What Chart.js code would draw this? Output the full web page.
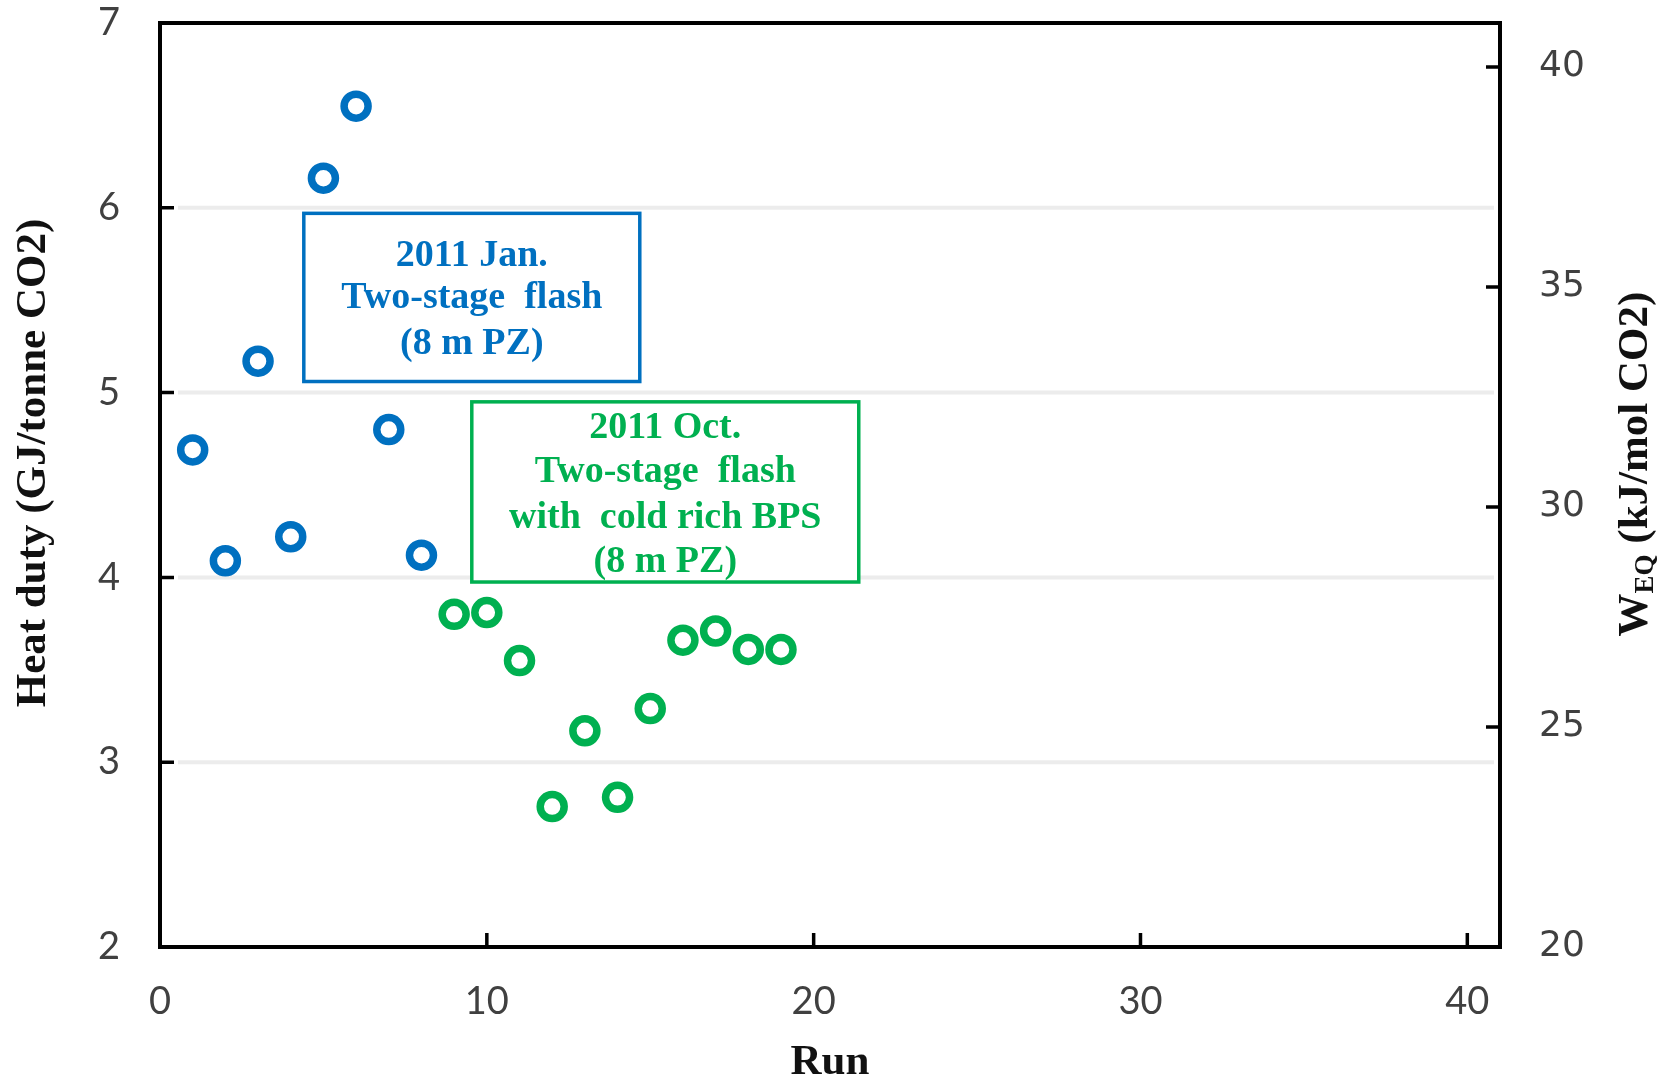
<!DOCTYPE html>
<html>
<head>
<meta charset="utf-8">
<script src="https://cdn.jsdelivr.net/npm/chart.js@4/dist/chart.umd.min.js"></script>
<style>
  html, body { margin: 0; padding: 0; background: #fff; }
  canvas { display: block; }
</style>
</head>
<body>
<canvas id="chart" width="1672" height="1081"></canvas>
<script>
// === Data ===
const runsJan = [1, 2, 3, 4, 5, 6, 7, 8];
const dutyJan = [4.69, 4.09, 5.17, 4.22, 6.16, 6.55, 4.80, 4.12];

const runsOct = [9, 10, 11, 12, 13, 14, 15, 16, 17, 18, 19];
const dutyOct = [3.80, 3.81, 3.55, 2.76, 3.17, 2.81, 3.29, 3.66, 3.71, 3.61, 3.61];

const runTicks = [0, 10, 20, 30, 40];
const dutyTicks = [2, 3, 4, 5, 6, 7];
const weqTicks = [20, 25, 30, 35, 40];
const dutyGrid = [3, 4, 5, 6];

const labelJan = ['2011 Jan.', 'Two-stage  flash', '(8 m PZ)'];
const labelOct = ['2011 Oct.', 'Two-stage  flash', 'with  cold rich BPS', '(8 m PZ)'];

// === Styling ===
const BLUE = '#0070c0';
const GREEN = '#00b050';
const TICK_FONT = 'Lato';
const SERIF = '"Liberation Serif", "Times New Roman", serif';

// annotation boxes, anchored in data units
const notes = [
    { color: BLUE, x0: 4.40, x1: 14.68, y0: 5.06, y1: 5.97, cx: 9.54, lines: labelJan, lineY: [5.74, 5.51, 5.26] },
    { color: GREEN, x0: 9.54, x1: 21.38, y0: 3.975, y1: 4.95, cx: 15.46, lines: labelOct, lineY: [4.81, 4.57, 4.32, 4.08] }
];

const fixedTicks = (arr) => (scale) => { scale.ticks = arr.map(v => ({ value: v })); };

// gridlines + boxes under the markers
const underlay = {
    id: 'underlay',
    beforeDatasetsDraw(chart) {
        const { ctx, chartArea: a, scales: { x, y } } = chart;
        ctx.save();
        ctx.strokeStyle = '#ececec';
        ctx.lineWidth = 4;
        dutyGrid.forEach(v => {
            const py = y.getPixelForValue(v);
            ctx.beginPath();
            ctx.moveTo(a.left + 18, py);
            ctx.lineTo(a.right - 6, py);
            ctx.stroke();
        });

        notes.forEach(n => {
            const l = x.getPixelForValue(n.x0), r = x.getPixelForValue(n.x1);
            const t = y.getPixelForValue(n.y1), b = y.getPixelForValue(n.y0);
            ctx.fillStyle = '#fff';
            ctx.fillRect(l, t, r - l, b - t);
            ctx.strokeStyle = n.color;
            ctx.lineWidth = 3.5;
            ctx.strokeRect(l, t, r - l, b - t);
            ctx.fillStyle = n.color;
            ctx.font = 'bold 38px ' + SERIF;
            ctx.textAlign = 'center';
            ctx.textBaseline = 'middle';
            n.lines.forEach((txt, i) => {
                ctx.fillText(txt, x.getPixelForValue(n.cx), y.getPixelForValue(n.lineY[i]));
            });
        });
        ctx.restore();
    }
};

// frame, inward ticks and axis titles
const frame = {
    id: 'frame',
    afterDatasetsDraw(chart) {
        const { ctx, chartArea: a, scales: { x, y, y2 } } = chart;
        ctx.save();
        ctx.strokeStyle = '#000';
        ctx.lineWidth = 4;
        ctx.strokeRect(a.left, a.top, a.right - a.left, a.bottom - a.top);

        const TL = 14;
        ctx.lineWidth = 3.5;
        ctx.beginPath();
        dutyTicks.slice(1, -1).forEach(v => {
            const py = y.getPixelForValue(v);
            ctx.moveTo(a.left, py); ctx.lineTo(a.left + TL, py);
        });
        weqTicks.slice(1).forEach(v => {
            const py = y2.getPixelForValue(v);
            ctx.moveTo(a.right, py); ctx.lineTo(a.right - TL, py);
        });
        runTicks.slice(1).forEach(v => {
            const px = x.getPixelForValue(v);
            ctx.moveTo(px, a.bottom); ctx.lineTo(px, a.bottom - TL);
        });
        ctx.stroke();

        // titles
        ctx.fillStyle = '#111';
        ctx.textBaseline = 'middle';
        ctx.textAlign = 'center';
        ctx.font = 'bold 43px ' + SERIF;
        ctx.fillText('Run', (a.left + a.right) / 2, 1063);

        ctx.save();
        ctx.translate(34, 463);
        ctx.rotate(-Math.PI / 2);
        ctx.fillText('Heat duty (GJ/tonne CO2)', 0, 0);
        ctx.restore();

        // right title with subscript
        ctx.save();
        ctx.translate(1636, 464);
        ctx.rotate(-Math.PI / 2);
        ctx.textAlign = 'left';
        const big = 'bold 43px ' + SERIF, small = 'bold 27px ' + SERIF;
        ctx.font = big;
        const wW = ctx.measureText('W').width;
        const wRest = ctx.measureText(' (kJ/mol CO2)').width;
        ctx.font = small;
        const wSub = ctx.measureText('EQ').width;
        let px = -(wW + wSub + wRest) / 2;
        ctx.font = big;
        ctx.fillText('W', px, 0); px += wW;
        ctx.font = small;
        ctx.fillText('EQ', px, 10); px += wSub;
        ctx.font = big;
        ctx.fillText(' (kJ/mol CO2)', px, 0);
        ctx.restore();

        ctx.restore();
    }
};

const markerStyle = (color) => ({
    pointStyle: 'circle',
    pointRadius: 12,
    pointHoverRadius: 12,
    pointBorderWidth: 7.5,
    pointBorderColor: color,
    pointBackgroundColor: 'rgba(0,0,0,0)',
    borderColor: color,
    showLine: false
});

new Chart(document.getElementById('chart'), {
    type: 'scatter',
    data: {
        datasets: [
            { label: '2011 Jan.', data: runsJan.map((r, i) => ({ x: r, y: dutyJan[i] })), ...markerStyle(BLUE) },
            { label: '2011 Oct.', data: runsOct.map((r, i) => ({ x: r, y: dutyOct[i] })), ...markerStyle(GREEN) }
        ]
    },
    options: {
        responsive: false,
        animation: false,
        layout: { padding: { top: 23, left: 0, right: 0, bottom: 0 } },
        plugins: { legend: { display: false }, tooltip: { enabled: false } },
        scales: {
            x: {
                type: 'linear', position: 'bottom', min: 0, max: 41,
                afterBuildTicks: fixedTicks(runTicks),
                afterFit: s => { s.height = 134; s.paddingLeft = 0; s.paddingRight = 0; },
                grid: { display: false, drawTicks: false }, border: { display: false },
                ticks: { padding: 32, color: '#404040', font: { family: TICK_FONT, size: 38 } }
            },
            y: {
                type: 'linear', position: 'left', min: 2, max: 7,
                afterBuildTicks: fixedTicks(dutyTicks),
                afterFit: s => { s.width = 160; s.paddingTop = 0; s.paddingBottom = 0; },
                grid: { display: false, drawTicks: false }, border: { display: false },
                ticks: { padding: 40, color: '#404040', font: { family: TICK_FONT, size: 38 } }
            },
            y2: {
                type: 'linear', position: 'right', min: 20, max: 41,
                afterBuildTicks: fixedTicks(weqTicks),
                afterFit: s => { s.width = 172; s.paddingTop = 0; s.paddingBottom = 0; },
                grid: { display: false, drawTicks: false }, border: { display: false },
                ticks: { padding: 39, color: '#404040', font: { family: '"DejaVu Sans"', size: 36 } }
            }
        }
    },
    plugins: [underlay, frame]
});
</script>
</body>
</html>
